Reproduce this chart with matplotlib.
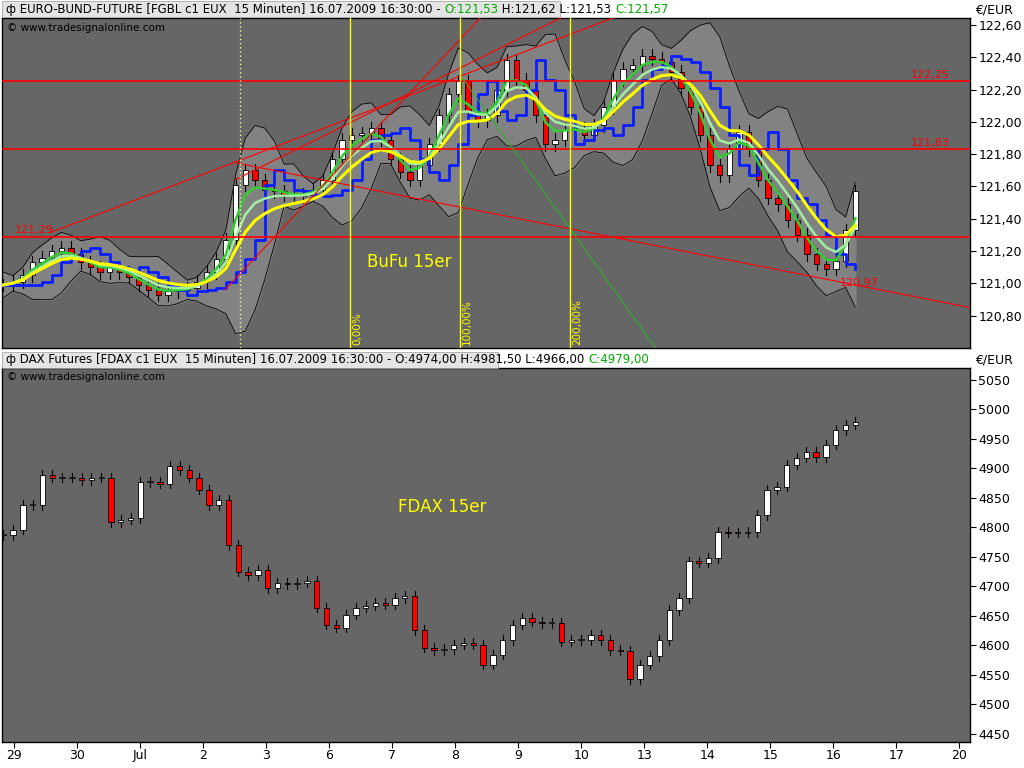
import numpy as np
import pandas as pd
import matplotlib
matplotlib.use("Agg")
import matplotlib.pyplot as plt

# ---- data ----
day_labels = ['29', '30', 'Jul', '2', '3', '6', '7', '8', '9', '10', '13', '14', '15', '16', '17', '20']
bund_close = [120.99, 121.01, 121.05, 121.13, 121.16, 121.20, 121.22, 121.18, 121.13, 121.10,
              121.07, 121.10, 121.07, 121.04, 120.99, 120.96, 120.93, 120.95, 120.96, 120.97,
              121.01, 121.07, 121.15, 121.27, 121.61, 121.70, 121.64, 121.58, 121.57, 121.55,
              121.54, 121.55, 121.58, 121.64, 121.77, 121.89, 121.92, 121.93, 121.96, 121.89,
              121.77, 121.69, 121.64, 121.73, 121.86, 122.04, 122.17, 122.25, 122.07, 122.01,
              122.04, 122.20, 122.38, 122.26, 122.20, 122.04, 121.86, 121.89, 121.95, 121.96,
              121.92, 121.98, 122.09, 122.26, 122.33, 122.35, 122.41, 122.39, 122.37, 122.31,
              122.21, 122.09, 121.92, 121.73, 121.67, 121.83, 121.94, 121.83, 121.64, 121.53,
              121.49, 121.39, 121.30, 121.18, 121.12, 121.09, 121.14, 121.33, 121.57]
dax_close = [4787, 4796, 4838, 4838, 4889, 4884, 4884, 4884, 4880, 4884, 4884, 4809, 4813, 4816,
             4877, 4877, 4874, 4904, 4897, 4884, 4864, 4838, 4847, 4770, 4725, 4719, 4728, 4697,
             4706, 4704, 4706, 4709, 4664, 4635, 4630, 4652, 4664, 4667, 4672, 4669, 4680, 4684,
             4626, 4596, 4592, 4594, 4601, 4604, 4601, 4567, 4584, 4609, 4635, 4647, 4640, 4638,
             4638, 4606, 4609, 4609, 4618, 4609, 4592, 4591, 4542, 4567, 4582, 4609, 4660, 4680,
             4742, 4740, 4748, 4792, 4791, 4791, 4792, 4821, 4864, 4869, 4906, 4918, 4928, 4919,
             4940, 4965, 4974, 4979]
t_start, t_end = -0.17, 13.35   # trading-day units (0 = 29 Jun)
hlines = [122.25, 121.83, 121.29]
trend_red = [((0.571, 121.314), (10.254, 122.755)),
             ((3.508, 121.641), (9.254, 122.755)),
             ((3.349, 120.961), (7.667, 122.755)),
             ((3.508, 121.747), (15.175, 120.850))]
trend_green = ((7.079, 122.291), (10.175, 120.602))
fib_t = [5.333, 7.079, 8.825]
fib_lbl = ['0,00%', '100,00%', '200,00%']
dotted_t = 3.587

BG = '#666666'
fig = plt.figure(figsize=(10.24, 7.68), dpi=100, facecolor='white')
ax1 = fig.add_axes([2/1024, 1-348/768, 968/1024, 330/768])
ax2 = fig.add_axes([2/1024, 1-742/768, 968/1024, 374/768])

def candles(ax, closes, t, wick, lw):
    c = np.array(closes, float)
    o = np.r_[c[0], c[:-1]]
    w = (t[1]-t[0])*0.55
    for ti, oi, ci in zip(t, o, c):
        hi, lo = max(oi, ci)+wick, min(oi, ci)-wick
        ax.plot([ti, ti], [lo, hi], color='black', lw=lw, zorder=3)
        col = 'white' if ci >= oi else 'red'
        h = abs(ci-oi)
        ax.add_patch(plt.Rectangle((ti-w/2, min(oi, ci)), w, max(h, wick*0.15),
                                   facecolor=col, edgecolor='black', lw=0.6, zorder=4))

for ax in (ax1, ax2):
    ax.set_facecolor(BG)
    ax.set_xlim(-0.19, 15.17)
    ax.yaxis.tick_right()
    ax.tick_params(axis='y', direction='out', length=4, labelsize=9, pad=2)
    for s in ax.spines.values():
        s.set_color('black'); s.set_linewidth(1)

# ---- Bund panel ----
tb = np.linspace(t_start, t_end, len(bund_close))
cb = pd.Series(bund_close)
ma = cb.rolling(6, min_periods=1).mean()
sd = cb.rolling(6, min_periods=1).std().fillna(0.03)
up, lo = ma + 2*sd + 0.02, ma - 2*sd - 0.02
ax1.fill_between(tb, lo, up, color='#828282', zorder=1)
ax1.plot(tb, up, color='black', lw=0.6, zorder=1.5)
ax1.plot(tb, lo, color='black', lw=0.6, zorder=1.5)
candles(ax1, bund_close, tb, 0.04, 0.8)
ax1.plot(tb, cb.shift(3).bfill(), color='#0a1eff', lw=2, drawstyle='steps-post', zorder=5)
ax1.plot(tb, cb.ewm(span=3).mean(), color='#33cc33', lw=1.8, zorder=6)
ax1.plot(tb, cb.ewm(span=5).mean(), color='#a0f0a0', lw=1.8, zorder=6)
ax1.plot(tb, cb.ewm(span=8).mean(), color='#ffff00', lw=2.2, zorder=7)

for h in hlines:
    ax1.axhline(h, color='red', lw=1.2, zorder=8)
for (a, b) in trend_red:
    ax1.plot([a[0], b[0]], [a[1], b[1]], color='red', lw=0.8, zorder=8)
ax1.plot([trend_green[0][0], trend_green[1][0]], [trend_green[0][1], trend_green[1][1]],
         color='#22bb22', lw=0.7, zorder=8)
for ft, fl in zip(fib_t, fib_lbl):
    ax1.axvline(ft, color='yellow', lw=1, zorder=8)
    ax1.text(ft+0.03, 120.62, fl, rotation=90, color='yellow', fontsize=7.5, va='bottom', ha='left', zorder=9)
ax1.axvline(dotted_t, color='#ffff88', lw=1, ls=(0, (1, 2)), zorder=8)
ax1.set_ylim(120.60, 122.643)
ax1.set_yticks(np.arange(120.8, 122.61, 0.2))
ax1.set_yticklabels([f'{v:.2f}'.replace('.', ',') for v in np.arange(120.8, 122.61, 0.2)])
ax1.set_xticks([])
ax1.text(0.01, 121.30, '121,29', color='red', fontsize=8, va='bottom')
ax1.text(14.85, 122.26, '122,25', color='red', fontsize=8, va='bottom', ha='right')
ax1.text(14.85, 121.84, '121,83', color='red', fontsize=8, va='bottom', ha='right')
ax1.text(13.1, 121.00, '120,97', color='red', fontsize=8, va='center')
ax1.text(5.6, 121.13, 'BuFu 15er', color='yellow', fontsize=12, va='center')
ax1.text(0.005, 0.985, '© www.tradesignalonline.com', transform=ax1.transAxes, fontsize=7.5,
         color='black', va='top')

# ---- DAX panel ----
td = np.linspace(t_start, t_end, len(dax_close))
candles(ax2, dax_close, td, 8, 0.8)
ax2.set_ylim(4436, 5070)
ax2.set_yticks(np.arange(4450, 5051, 50))
ax2.set_xticks(np.arange(len(day_labels)))
ax2.set_xticklabels(day_labels, fontsize=9)
ax2.tick_params(axis='x', direction='out', length=4, pad=1)
ax2.text(6.1, 4835, 'FDAX 15er', color='yellow', fontsize=12, va='center')
ax2.text(0.005, 0.99, '© www.tradesignalonline.com', transform=ax2.transAxes, fontsize=7.5,
         color='black', va='top')

# ---- headers ----
def header(y, parts, width):
    fig.patches.append(plt.Rectangle((2/1024, 1-(y+8)/768), width/1024, 16/768,
                                     transform=fig.transFigure, facecolor='#e4e4e4',
                                     edgecolor='#999999', lw=0.5))
    x = 6/1024
    txt = fig.text(x, 1-y/768, '', fontsize=8.5)
    r = fig.canvas.get_renderer()
    for s, c in parts:
        t = fig.text(x, 1-y/768, s, color=c, fontsize=8.5, va='center', ha='left')
        bb = t.get_window_extent(renderer=r)
        x += bb.width/1024

header(9, [('ф EURO-BUND-FUTURE [FGBL c1 EUX  15 Minuten] 16.07.2009 16:30:00 - ', 'black'),
           ('O:121,53', '#00aa00'), (' H:121,62 L:121,53 ', 'black'), ('C:121,57', '#00aa00')], 558)
header(360, [('ф DAX Futures [FDAX c1 EUX  15 Minuten] 16.07.2009 16:30:00 - O:4974,00 H:4981,50 L:4966,00 ', 'black'),
             ('C:4979,00', '#00aa00')], 496)
fig.text(975/1024, 1-10/768, '€/EUR', fontsize=9, va='center')
fig.text(975/1024, 1-360/768, '€/EUR', fontsize=9, va='center')

fig.savefig('out.png', dpi=100, facecolor='white')
